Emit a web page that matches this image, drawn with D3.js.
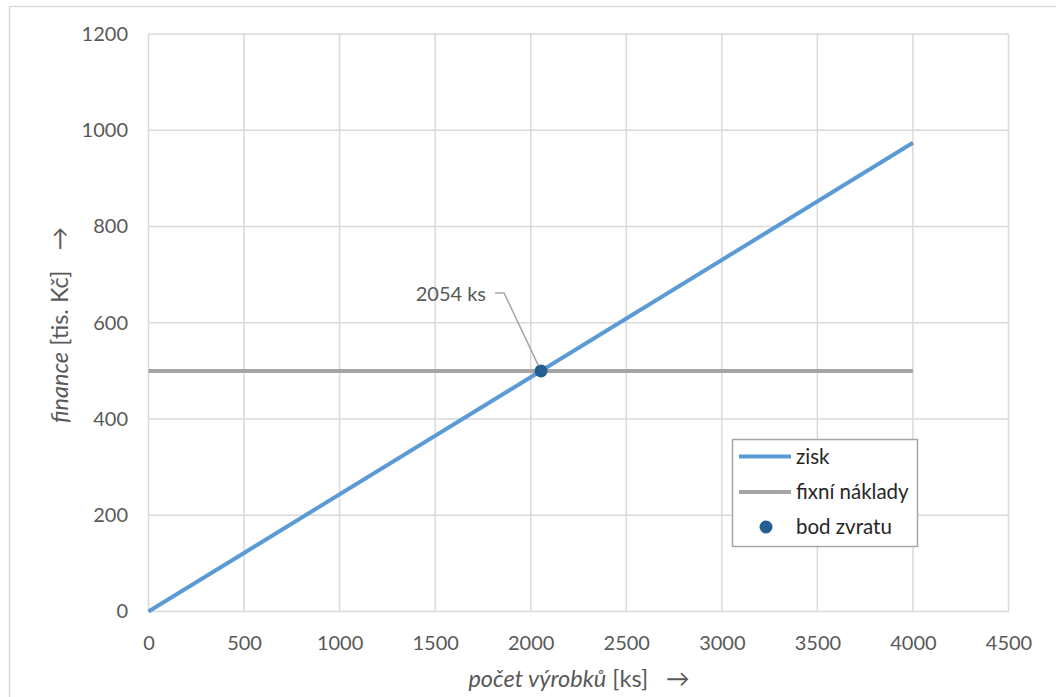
<!DOCTYPE html>
<html>
<head>
<meta charset="utf-8">
<script src="https://cdn.jsdelivr.net/npm/d3@7"></script>
<style>
  html, body { margin: 0; padding: 0; background: #fff; }
  svg { display: block; font-family: Lato, "Open Sans", sans-serif; }
</style>
</head>
<body>
<svg id="chart" width="1056" height="697"></svg>
<script>
// Break-even chart: profit line vs fixed costs
const xTicks = [0, 500, 1000, 1500, 2000, 2500, 3000, 3500, 4000, 4500];
const yTicks = [0, 200, 400, 600, 800, 1000, 1200];
const quantity = [0, 4000];
const profit = [0, 974];
const fixedCosts = [500, 500];
const breakEvenQty = [2054];
const breakEvenValue = [500];
const breakEvenLabel = "2054 ks";
const seriesNames = ["zisk", "fixní náklady", "bod zvratu"];

const svg = d3.select("#chart");
const W = 1056, H = 697;
const plot = { left: 148.5, right: 1008.5, top: 34, bottom: 611.5 };

const x = d3.scaleLinear().domain([0, 4500]).range([plot.left, plot.right]);
const y = d3.scaleLinear().domain([0, 1200]).range([plot.bottom, plot.top]);

const gridColor = "#d9d9d9";
const textColor = "#595959";
const fontSize = 20;

// outer chart frame (runs off the right and bottom edge)
svg.append("path")
  .attr("d", `M9.5,${H + 5} V6.5 H${W + 5}`)
  .attr("fill", "none").attr("stroke", gridColor).attr("stroke-width", 1.5);

// gridlines
const grid = svg.append("g");
grid.selectAll("line.v").data(xTicks).join("line")
  .attr("x1", d => x(d)).attr("x2", d => x(d))
  .attr("y1", plot.top).attr("y2", plot.bottom)
  .attr("stroke", gridColor).attr("stroke-width", 1.5);
grid.selectAll("line.h").data(yTicks).join("line")
  .attr("x1", plot.left).attr("x2", plot.right)
  .attr("y1", d => y(d)).attr("y2", d => y(d))
  .attr("stroke", gridColor).attr("stroke-width", 1.5);

// tick labels via d3 axes (domain lines removed, gridlines drawn separately)
const xAxis = svg.append("g")
  .attr("transform", `translate(0,${plot.bottom})`)
  .call(d3.axisBottom(x).tickValues(xTicks).tickSize(0).tickPadding(24).tickFormat(d3.format("d")));
const yAxis = svg.append("g")
  .attr("transform", `translate(${plot.left},0)`)
  .call(d3.axisLeft(y).tickValues(yTicks).tickSize(0).tickPadding(20.5).tickFormat(d3.format("d")));
[xAxis, yAxis].forEach(a => {
  a.select(".domain").remove();
  a.selectAll("text").attr("fill", textColor).attr("font-size", fontSize)
    .attr("font-family", "Lato, 'Open Sans', sans-serif");
});

// series lines
const lineGen = d3.line().x(d => x(d[0])).y(d => y(d[1]));
svg.append("path")
  .datum(quantity.map((q, i) => [q, fixedCosts[i]]))
  .attr("d", lineGen).attr("fill", "none")
  .attr("stroke", "#a5a5a5").attr("stroke-width", 4);
svg.append("path")
  .datum(quantity.map((q, i) => [q, profit[i]]))
  .attr("d", lineGen).attr("fill", "none")
  .attr("stroke", "#5b9bd5").attr("stroke-width", 4);

// break-even label with leader line
const bx = x(breakEvenQty[0]), by = y(breakEvenValue[0]);
svg.append("path")
  .attr("d", `M${bx - 3},${by - 6} L${bx - 37},${by - 78} H${bx - 46}`)
  .attr("fill", "none").attr("stroke", "#a5a5a5").attr("stroke-width", 1.5);
svg.append("text")
  .attr("x", bx - 55).attr("y", by - 70)
  .attr("text-anchor", "end").attr("font-size", fontSize).attr("fill", textColor)
  .text(breakEvenLabel);

// break-even point
svg.selectAll("circle.be").data(breakEvenQty).join("circle")
  .attr("cx", d => x(d)).attr("cy", (d, i) => y(breakEvenValue[i]))
  .attr("r", 6.5).attr("fill", "#255e91");

// legend
const lg = svg.append("g").attr("transform", "translate(732,439)");
lg.append("rect").attr("x", 0.5).attr("y", 0.5).attr("width", 185).attr("height", 107)
  .attr("fill", "#fff").attr("stroke", "#a6a6a6").attr("stroke-width", 1.5);
const legendRows = [
  { name: seriesNames[0], type: "line", color: "#5b9bd5", cy: 17.5 },
  { name: seriesNames[1], type: "line", color: "#a5a5a5", cy: 53 },
  { name: seriesNames[2], type: "dot", color: "#255e91", cy: 88 }
];
legendRows.forEach(r => {
  if (r.type === "line") {
    lg.append("line").attr("x1", 7).attr("x2", 59).attr("y1", r.cy).attr("y2", r.cy)
      .attr("stroke", r.color).attr("stroke-width", 4);
  } else {
    lg.append("circle").attr("cx", 34).attr("cy", r.cy).attr("r", 6.5).attr("fill", r.color);
  }
  lg.append("text").attr("x", 64).attr("y", r.cy + 7)
    .attr("font-size", 20.5).attr("fill", "#262626").text(r.name);
});

// axis titles
const xt = svg.append("text").attr("x", 579).attr("y", 687)
  .attr("text-anchor", "middle").attr("font-size", 23.5).attr("fill", textColor);
xt.append("tspan").attr("font-style", "italic").text("počet výrobků");
xt.append("tspan").text(" [ks]");
xt.append("tspan").attr("dx", 18).text("→");

const yt = svg.append("text")
  .attr("transform", "translate(68,325) rotate(-90)")
  .attr("text-anchor", "middle").attr("font-size", 23.5).attr("fill", textColor);
yt.append("tspan").attr("font-style", "italic").text("finance");
yt.append("tspan").text(" [tis. Kč]");
yt.append("tspan").attr("dx", 20).text("→");
</script>
</body>
</html>
